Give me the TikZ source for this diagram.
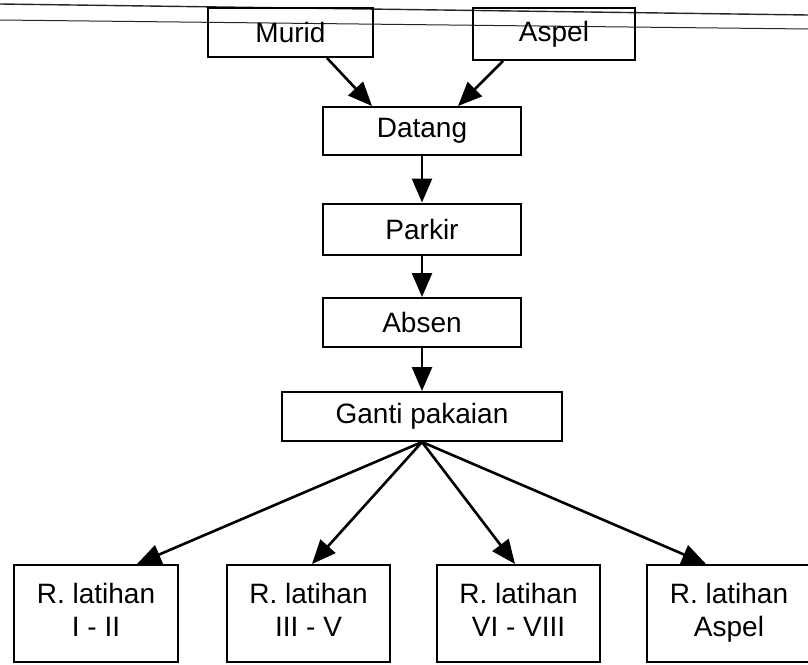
\documentclass[tikz,border=0pt]{standalone}
\usepackage{fontspec}
\setmainfont{Liberation Sans}
\usetikzlibrary{arrows.meta}
\begin{document}
\begin{tikzpicture}[x=1pt,y=-1pt,
  box/.style={draw,line width=2pt,inner sep=0pt,align=center,
    font=\fontsize{28}{33}\selectfont},
  arr/.style={line width=2.6pt,-{Triangle[length=24pt,width=20pt]}},
  stray/.style={line width=1.4pt,black!85}]
\useasboundingbox (0,0) rectangle (808,664);
% stray scan lines at the top
\draw[stray] (0,4) -- (808,15);
\draw[stray,line width=1pt] (0,20) -- (808,29);
% boxes
\node[box,minimum width=165pt,minimum height=49pt] (m) at (290.5,32.5) {Murid};
\node[box,minimum width=162pt,minimum height=52pt] (a) at (554,34) {Aspel};
\node[box,minimum width=198pt,minimum height=48pt] (d) at (422,131) {Datang};
\node[box,minimum width=198pt,minimum height=51pt] (p) at (422,229) {Parkir};
\node[box,minimum width=198pt,minimum height=49pt] (ab) at (422,322.5) {Absen};
\node[box,minimum width=280pt,minimum height=49pt] (g) at (422,416.5) {Ganti pakaian};
\node[box,minimum width=164pt,minimum height=97pt] (b1) at (96,613.5) {\strut R. latihan\\I - II\strut};
\node[box,minimum width=163pt,minimum height=97pt] (b2) at (308.5,613.5) {\strut R. latihan\\III - V\strut};
\node[box,minimum width=163pt,minimum height=97pt] (b3) at (518.5,613.5) {\strut R. latihan\\VI - VIII\strut};
\node[box,minimum width=164pt,minimum height=97pt] (b4) at (729,613.5) {\strut R. latihan\\Aspel\strut};
% connectors
\draw[arr] ([xshift=36.5pt]m.south) -- ([xshift=-50pt]d.north);
\draw[arr] ([xshift=-51pt]a.south) -- ([xshift=36pt]d.north);
\draw[arr] (d) -- (p);
\draw[arr] (p) -- (ab);
\draw[arr] (ab) -- (g);
\draw[arr] (g.south) -- ([xshift=41pt]b1.north);
\draw[arr] (g.south) -- ([xshift=3.5pt]b2.north);
\draw[arr] (g.south) -- ([xshift=-3.5pt]b3.north);
\draw[arr] (g.south) -- ([xshift=-23pt]b4.north);
\end{tikzpicture}
\end{document}
